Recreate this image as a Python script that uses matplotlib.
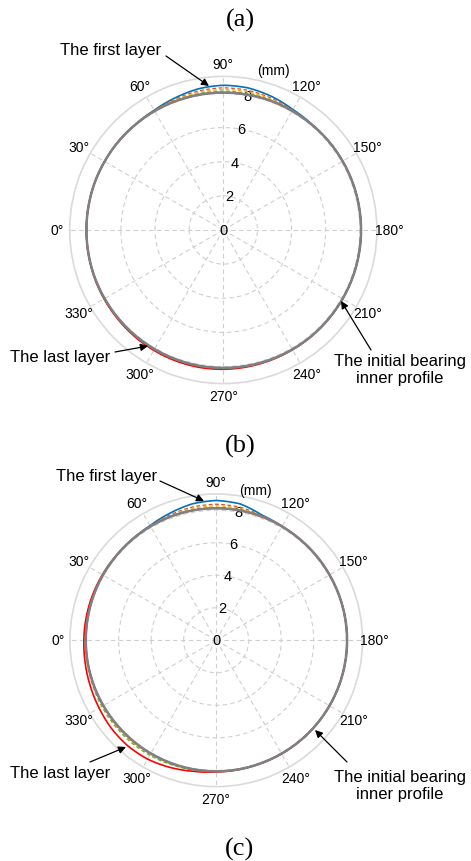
import numpy as np
import matplotlib
matplotlib.use("Agg")
import matplotlib.pyplot as plt

W, H = 471, 862
plt.rcParams['font.family'] = ['Liberation Sans', 'DejaVu Sans']

# ---------------- data (mm) ----------------
theta_deg = [0, 10, 20, 30, 40, 50, 60, 70, 80, 90, 100, 110,
             120, 130, 140, 150, 160, 170, 180, 190, 200, 210, 220, 230,
             240, 250, 260, 270, 280, 290, 300, 310, 320, 330, 340, 350]

# panel (a)
init_a = [8.02, 8.02, 8.03, 8.03, 8.04, 8.04, 8.05, 8.05, 8.05, 8.05, 8.05, 8.06,
          8.06, 8.06, 8.07, 8.07, 8.07, 8.07, 8.07, 8.07, 8.07, 8.07, 8.07, 8.08,
          8.08, 8.08, 8.08, 8.08, 8.08, 8.07, 8.06, 8.05, 8.04, 8.03, 8.03, 8.02]
first_a = [8.02, 8.02, 8.03, 8.03, 8.04, 8.05, 8.10, 8.24, 8.40, 8.48, 8.45, 8.32,
           8.15, 8.08, 8.07, 8.07, 8.07, 8.07, 8.07, 8.07, 8.07, 8.07, 8.07, 8.08,
           8.08, 8.08, 8.08, 8.08, 8.08, 8.07, 8.06, 8.05, 8.04, 8.03, 8.03, 8.02]
mid1_a = [8.02, 8.02, 8.03, 8.03, 8.04, 8.04, 8.08, 8.17, 8.28, 8.33, 8.31, 8.22,
          8.11, 8.06, 8.07, 8.07, 8.07, 8.07, 8.07, 8.07, 8.07, 8.07, 8.07, 8.08,
          8.08, 8.09, 8.10, 8.10, 8.10, 8.09, 8.08, 8.07, 8.05, 8.04, 8.03, 8.02]
mid2_a = [8.02, 8.02, 8.03, 8.03, 8.04, 8.04, 8.06, 8.12, 8.20, 8.24, 8.22, 8.15,
          8.08, 8.06, 8.07, 8.07, 8.07, 8.07, 8.07, 8.07, 8.07, 8.07, 8.07, 8.08,
          8.09, 8.10, 8.11, 8.12, 8.12, 8.11, 8.10, 8.08, 8.06, 8.05, 8.03, 8.02]
mid3_a = [8.02, 8.02, 8.03, 8.03, 8.04, 8.04, 8.05, 8.08, 8.12, 8.14, 8.13, 8.10,
          8.07, 8.06, 8.07, 8.07, 8.07, 8.07, 8.07, 8.07, 8.07, 8.07, 8.07, 8.08,
          8.09, 8.10, 8.12, 8.14, 8.14, 8.13, 8.12, 8.10, 8.07, 8.05, 8.04, 8.02]
last_a = [8.02, 8.02, 8.03, 8.03, 8.04, 8.04, 8.05, 8.05, 8.05, 8.05, 8.05, 8.06,
          8.06, 8.06, 8.07, 8.07, 8.07, 8.07, 8.07, 8.07, 8.07, 8.07, 8.08, 8.09,
          8.10, 8.12, 8.14, 8.16, 8.17, 8.16, 8.14, 8.12, 8.09, 8.07, 8.05, 8.03]

# panel (b)
init_b = [8.02, 8.02, 8.03, 8.04, 8.05, 8.07, 8.09, 8.11, 8.12, 8.12, 8.12, 8.11,
          8.09, 8.07, 8.06, 8.05, 8.05, 8.05, 8.05, 8.05, 8.05, 8.05, 8.05, 8.05,
          8.05, 8.05, 8.06, 8.06, 8.06, 8.05, 8.04, 8.03, 8.02, 8.02, 8.02, 8.02]
first_b = [8.02, 8.02, 8.03, 8.04, 8.05, 8.08, 8.14, 8.32, 8.52, 8.60, 8.52, 8.20,
           8.09, 8.07, 8.06, 8.05, 8.05, 8.05, 8.05, 8.05, 8.05, 8.05, 8.05, 8.05,
           8.05, 8.05, 8.06, 8.06, 8.06, 8.05, 8.04, 8.03, 8.02, 8.02, 8.02, 8.02]
mid1_b = [8.03, 8.03, 8.03, 8.04, 8.05, 8.07, 8.11, 8.22, 8.33, 8.37, 8.32, 8.16,
          8.09, 8.07, 8.06, 8.05, 8.05, 8.05, 8.05, 8.05, 8.05, 8.05, 8.05, 8.05,
          8.05, 8.05, 8.06, 8.06, 8.07, 8.08, 8.08, 8.08, 8.07, 8.06, 8.05, 8.04]
mid2_b = [8.04, 8.04, 8.04, 8.04, 8.05, 8.07, 8.10, 8.16, 8.24, 8.27, 8.24, 8.13,
          8.09, 8.07, 8.06, 8.05, 8.05, 8.05, 8.05, 8.05, 8.05, 8.05, 8.05, 8.05,
          8.05, 8.05, 8.06, 8.06, 8.08, 8.10, 8.12, 8.12, 8.11, 8.09, 8.07, 8.05]
mid3_b = [8.05, 8.05, 8.05, 8.05, 8.05, 8.07, 8.09, 8.13, 8.16, 8.17, 8.16, 8.11,
          8.09, 8.07, 8.06, 8.05, 8.05, 8.05, 8.05, 8.05, 8.05, 8.05, 8.05, 8.05,
          8.05, 8.05, 8.06, 8.07, 8.10, 8.14, 8.17, 8.18, 8.16, 8.13, 8.09, 8.06]
last_b = [8.14, 8.12, 8.10, 8.08, 8.06, 8.07, 8.09, 8.11, 8.12, 8.12, 8.12, 8.11,
          8.09, 8.07, 8.06, 8.05, 8.05, 8.05, 8.05, 8.05, 8.05, 8.05, 8.05, 8.05,
          8.05, 8.05, 8.07, 8.10, 8.18, 8.32, 8.44, 8.47, 8.42, 8.32, 8.24, 8.18]

theta_ticks = [0, 30, 60, 90, 120, 150, 180, 210, 240, 270, 300, 330]
r_ticks = [0, 2, 4, 6, 8]
r_max = 9

# ---------------- figure ----------------
fig = plt.figure(figsize=(W / 100, H / 100), dpi=100)
fig.patch.set_facecolor('white')

def fy(y):
    return H - y

def make_polar(center, R):
    cx, cy = center
    rect = [(cx - R) / W, (H - cy - R) / H, 2 * R / W, 2 * R / H]
    ax = fig.add_axes(rect, projection='polar')
    ax.set_theta_zero_location('W')
    ax.set_theta_direction(-1)
    ax.set_ylim(0, r_max)
    ax.set_xticks(np.deg2rad(theta_ticks))
    ax.set_xticklabels([])
    ax.set_yticks([2, 4, 6, 8])
    ax.set_yticklabels([])
    ax.grid(True, color='#cfcfcf', linestyle=(0, (4, 3)), linewidth=0.8)
    ax.spines['polar'].set_color('#dadada')
    ax.spines['polar'].set_linewidth(1.2)
    ax.tick_params(length=0)
    for t in theta_ticks:
        ax.text(np.deg2rad(t), 9.75, f'{t}°', ha='center', va='center', fontsize=10)
    for rv in r_ticks:
        ax.text(np.deg2rad(100), rv, str(rv), ha='center', va='center', fontsize=10.5)
    return ax

def closed(vals):
    th = np.deg2rad(theta_deg + [360])
    return th, list(vals) + [vals[0]]

def smooth(line):
    # let the polar transform draw the curve along theta instead of chords
    line.get_path()._interpolation_steps = 40
    return line

def draw_layers(ax, init, first, mids, last):
    smooth(ax.plot(*closed(first), color='#0072BD', lw=1.2, zorder=3)[0])
    for vals, col in zip(mids, ['#D95319', '#EDB120', '#77AC30']):
        smooth(ax.plot(*closed(vals), color=col, lw=0.9, ls=(0, (3, 2)), zorder=3)[0])
    smooth(ax.plot(*closed(last), color='#FF0000', lw=1.2, zorder=3)[0])
    smooth(ax.plot(*closed(init), color='#808080', lw=1.8, zorder=4)[0])

def arrow(p0, p1):
    fig.add_artist(matplotlib.patches.FancyArrowPatch(
        (p0[0] / W, fy(p0[1]) / H), (p1[0] / W, fy(p1[1]) / H),
        transform=fig.transFigure, arrowstyle='-|>', mutation_scale=11,
        color='black', lw=0.9, shrinkA=0, shrinkB=0))

# panel (a)
axa = make_polar((223.3, 231.0), 153.6)
draw_layers(axa, init_a, first_a, [mid1_a, mid2_a, mid3_a], last_a)
axa.text(np.deg2rad(107.4), 9.8, '(mm)', ha='center', va='center', fontsize=10)

# panel (b)
axb = make_polar((216.2, 641.3), 146.3)
draw_layers(axb, init_b, first_b, [mid1_b, mid2_b, mid3_b], last_b)
axb.text(np.deg2rad(104.6), 9.55, '(mm)', ha='center', va='center', fontsize=10)

# titles
for lab, y in [('(a)', 20), ('(b)', 446), ('(c)', 849)]:
    fig.text(240 / W, fy(y) / H, lab, ha='center', va='center', fontsize=19,
             family='Liberation Serif')

# annotations (a)
fig.text(111 / W, fy(50) / H, 'The first layer', ha='center', va='center', fontsize=12)
arrow((166, 57), (209, 87))
fig.text(60 / W, fy(358) / H, 'The last layer', ha='center', va='center', fontsize=12)
arrow((115, 353), (148, 347))
fig.text(400 / W, fy(370) / H, 'The initial bearing\ninner profile', ha='center',
         va='center', fontsize=12, linespacing=1.2)
arrow((371, 351), (341, 302))

# annotations (b)
fig.text(107 / W, fy(477) / H, 'The first layer', ha='center', va='center', fontsize=12)
arrow((160, 482), (204, 502))
fig.text(60 / W, fy(774) / H, 'The last layer', ha='center', va='center', fontsize=12)
arrow((90, 763), (126, 748))
fig.text(400 / W, fy(786) / H, 'The initial bearing\ninner profile', ha='center',
         va='center', fontsize=12, linespacing=1.2)
arrow((347, 763), (315, 731))

fig.savefig('out.png', dpi=100, facecolor='white')
